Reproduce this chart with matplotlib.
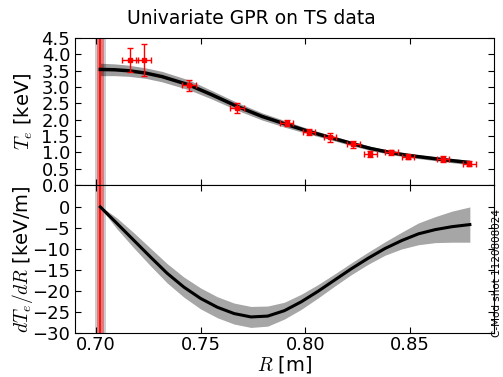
import matplotlib
matplotlib.use('Agg')
import matplotlib.pyplot as plt
import numpy as np

plt.rcParams['mathtext.fontset'] = 'cm'
plt.rcParams['font.family'] = ['DejaVu Sans']
plt.rcParams['xtick.direction'] = 'in'
plt.rcParams['ytick.direction'] = 'in'
plt.rcParams['xtick.top'] = True
plt.rcParams['ytick.right'] = True
plt.rcParams['xtick.major.size'] = 4
plt.rcParams['ytick.major.size'] = 4

# datos TS (puntos con barras de error)
R_ts = [0.7164, 0.7228, 0.7443, 0.7674, 0.7910, 0.8017, 0.8117, 0.8229, 0.8310, 0.8410, 0.8490, 0.8656, 0.8782]
T_ts = [3.83, 3.83, 3.06, 2.37, 1.89, 1.63, 1.46, 1.25, 0.96, 1.00, 0.87, 0.80, 0.66]
T_ts_err = [0.36, 0.50, 0.17, 0.15, 0.09, 0.10, 0.13, 0.10, 0.09, 0.08, 0.08, 0.08, 0.08]
R_ts_err = [0.0038, 0.0036, 0.0033, 0.0032, 0.0032, 0.003, 0.003, 0.003, 0.003, 0.003, 0.003, 0.003, 0.003]

# ajuste GPR
R_fit = [0.7021, 0.7090, 0.7156, 0.7236, 0.7316, 0.7443, 0.7555, 0.7674, 0.7794, 0.7913, 0.8017, 0.8117,
         0.8229, 0.8312, 0.8411, 0.8490, 0.8656, 0.8785]
T_fit = [3.54, 3.53, 3.50, 3.43, 3.32, 3.07, 2.76, 2.41, 2.10, 1.85, 1.64, 1.46,
         1.26, 1.12, 0.99, 0.91, 0.78, 0.69]
T_fit_err = [0.19, 0.18, 0.17, 0.16, 0.16, 0.15, 0.13, 0.12, 0.11, 0.10, 0.08, 0.07,
             0.07, 0.06, 0.06, 0.06, 0.06, 0.07]

# derivada
R_d = [0.7021, 0.710, 0.718, 0.726, 0.734, 0.742, 0.750, 0.758, 0.766, 0.774, 0.782, 0.790,
       0.798, 0.806, 0.814, 0.822, 0.830, 0.838, 0.846, 0.854, 0.862, 0.870, 0.8785]
dT = [0, -3.9, -7.9, -11.9, -15.8, -19.1, -21.8, -23.9, -25.4, -26.2, -26.0, -24.7,
      -22.6, -20.1, -17.4, -14.7, -12.2, -9.9, -8.0, -6.4, -5.4, -4.7, -4.2]
dT_err = [0.2, 1.3, 1.8, 2.1, 2.3, 2.4, 2.5, 2.5, 2.5, 2.5, 2.4, 2.0,
          1.8, 1.6, 1.45, 1.4, 1.45, 1.6, 2.0, 2.6, 3.1, 3.7, 4.2]

# separatriz
R_lcfs = 0.7021
R_lcfs_err = 0.00175
R_lcfs_err2 = 0.0026

R_fit, T_fit, T_fit_err = np.array(R_fit), np.array(T_fit), np.array(T_fit_err)
R_d, dT, dT_err = np.array(R_d), np.array(dT), np.array(dT_err)

fig = plt.figure(figsize=(5.03, 3.77), dpi=100)
ax1 = fig.add_axes([0.149, 0.509, 0.833, 0.390])
ax2 = fig.add_axes([0.149, 0.117, 0.833, 0.392], sharex=ax1)

for ax in (ax1, ax2):
    ax.axvspan(R_lcfs - R_lcfs_err2, R_lcfs + R_lcfs_err2, color='gray', alpha=0.4, lw=0)
    ax.axvspan(R_lcfs - R_lcfs_err, R_lcfs + R_lcfs_err, color='r', alpha=0.4, lw=0)
    ax.axvline(R_lcfs, color='r', lw=1.2)

ax1.fill_between(R_fit, T_fit - T_fit_err, T_fit + T_fit_err, color='k', alpha=0.38, lw=0)
ax1.plot(R_fit, T_fit, 'k-', lw=2.5, solid_joinstyle='round')
ax1.errorbar(R_ts, T_ts, yerr=T_ts_err, xerr=R_ts_err, fmt='s', color='r', ms=3,
             ecolor='r', elinewidth=1, capsize=2.5, mec='r')

ax2.fill_between(R_d, dT - dT_err, dT + dT_err, color='k', alpha=0.35, lw=0)
ax2.plot(R_d, dT, 'k-', lw=2.2, solid_joinstyle='round')

ax1.set_xlim(0.69, 0.89)
ax1.set_ylim(0, 4.5)
ax1.set_yticks(np.arange(0, 4.51, 0.5))
ax1.set_yticklabels(['%.1f' % v for v in np.arange(0, 4.51, 0.5)])
ax2.set_ylim(-30, 5.2)
ax2.set_yticks(np.arange(-30, 1, 5))
ax2.set_xticks([0.70, 0.75, 0.80, 0.85])
ax2.set_xticklabels(['0.70', '0.75', '0.80', '0.85'])
plt.setp(ax1.get_xticklabels(), visible=False)

for ax in (ax1, ax2):
    ax.tick_params(labelsize=13)
ax2.tick_params(axis='x', pad=2)

ax1.set_ylabel('$T_e$ [keV]', fontsize=14)
ax2.set_ylabel('$dT_e/dR$ [keV/m]', fontsize=14)
ax2.set_xlabel('$R$ [m]', fontsize=14, labelpad=0)
ax1.yaxis.set_label_coords(-0.095, 0.5)
ax2.yaxis.set_label_coords(-0.095, 0.5)

fig.suptitle('Univariate GPR on TS data', fontsize=13.5, y=0.975)
fig.text(0.988, 0.107, 'C-Mod shot 1120808024', rotation=90, fontsize=7.5,
         ha='center', va='bottom')

fig.savefig('out.png', dpi=100)
